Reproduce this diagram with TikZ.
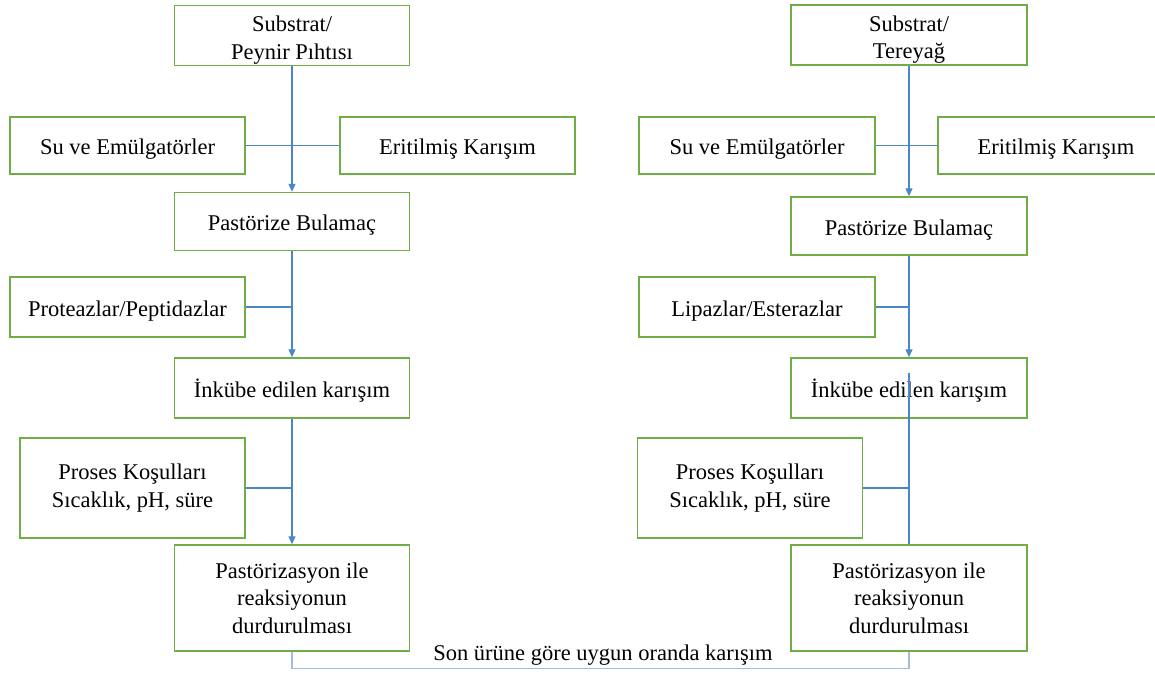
\documentclass[tikz,border=0pt]{standalone}
\usepackage{fontspec}
\setmainfont{Liberation Serif}
\usetikzlibrary{arrows.meta}
\definecolor{boxgreen}{HTML}{70AD47}
\definecolor{lineblue}{HTML}{4A86C8}
\definecolor{paleblue}{HTML}{A3BCDD}

\begin{document}
\begin{tikzpicture}[x=1pt,y=-1pt]
\tikzstyle{every node}+=[inner sep=0pt,font=\fontsize{22.5}{27.5}\selectfont,align=center]
\tikzstyle{stepbox}=[draw=boxgreen,line width=1.5pt,rectangle,minimum width=235pt,minimum height=58pt]
\tikzstyle{oneline}=[text height=22pt,text depth=4pt]
\tikzstyle{twoline}=[text height=51pt,text depth=4pt]
\tikzstyle{ln}=[draw=lineblue,line width=1.4pt]
\tikzstyle{arr}=[ln,-{Triangle[width=7pt,length=8pt]}]
\useasboundingbox (0,0) rectangle (1155,673);
% left column
\node [stepbox,twoline,minimum height=60pt] (subL) at (292,35.5) {Substrat/\\Peynir Pıhtısı};
\node [stepbox,oneline,minimum height=57pt] (suL) at (127.5,145.5) {Su ve Emülgatörler};
\node [stepbox,oneline,minimum height=57pt] (eriL) at (457.5,145.5) {Eritilmiş Karışım};
\node [stepbox,oneline] (pasL) at (292,221.5) {Pastörize Bulamaç};
\node [stepbox,oneline,minimum height=60pt] (proL) at (127.5,307) {Proteazlar/Peptidazlar};
\node [stepbox,oneline,minimum height=60pt] (inkL) at (292,388) {İnkübe edilen karışım};
\node [stepbox,minimum width=225pt,minimum height=100pt] (kosL) at (132.5,488) {Proses Koşulları\\Sıcaklık, pH, süre};
\node [stepbox,minimum height=106pt] (durL) at (292,598) {Pastörizasyon ile\\reaksiyonun\\durdurulması};
% right column
\node [stepbox,twoline,minimum width=236pt,minimum height=60pt] (subR) at (909,35) {Substrat/\\Tereyağ};
\node [stepbox,oneline,minimum width=236pt,minimum height=57pt] (suR) at (757,145.5) {Su ve Emülgatörler};
\node [stepbox,oneline,minimum width=236pt,minimum height=57pt] (eriR) at (1056,145.5) {Eritilmiş Karışım};
\node [stepbox,oneline,minimum width=236pt] (pasR) at (909,226) {Pastörize Bulamaç};
\node [stepbox,oneline,minimum width=236pt,minimum height=60pt] (lipR) at (757,307) {Lipazlar/Esterazlar};
\node [stepbox,oneline,minimum width=236pt,minimum height=60pt] (inkR) at (909,388) {İnkübe edilen karışım};
\node [stepbox,minimum width=225pt,minimum height=100pt] (kosR) at (750,488) {Proses Koşulları\\Sıcaklık, pH, süre};
\node [stepbox,minimum width=236pt,minimum height=106pt] (durR) at (909,598) {Pastörizasyon ile\\reaksiyonun\\durdurulması};
% connectors
\draw [arr] (subL) -- (pasL);
\draw [ln] (suL) -- (eriL);
\draw [arr] (pasL) -- (inkL);
\draw [ln] (proL.east) -- (proL.east -| pasL.south);
\draw [arr] (inkL) -- (durL);
\draw [ln] (kosL.east) -- (kosL.east -| inkL.south);
\draw [arr] (subR) -- (pasR);
\draw [ln] (suR) -- (eriR);
\draw [arr] (pasR) -- (inkR);
\draw [ln] (lipR.east) -- (lipR.east -| pasR.south);
\draw [ln] ([yshift=15pt]inkR.center) -- (durR.north);
\draw [ln] (kosR.east) -- (kosR.east -| durR.north);
\draw [draw=paleblue,line width=1.4pt] (durL.south) -- ++(0,17) -| (durR.south);
\node [anchor=base] (mix) at (603,660) {Son ürüne göre uygun oranda karışım};
\end{tikzpicture}
\end{document}
